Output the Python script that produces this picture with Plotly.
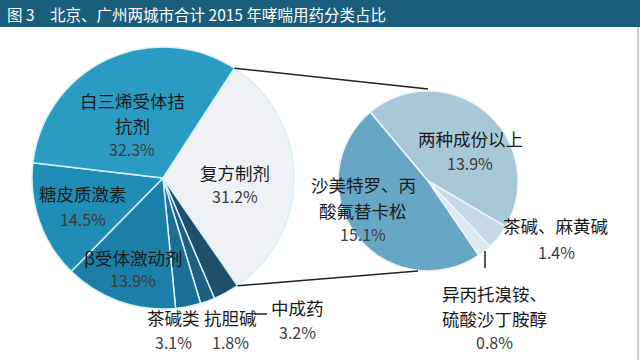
import math
import plotly.graph_objects as go

# ---------------- data ----------------
title_text = "图 3　北京、广州两城市合计 2015 年哮喘用药分类占比"

main_labels = ["复方制剂", "中成药", "抗胆碱", "茶碱类", "β受体激动剂", "糖皮质激素", "白三烯受体拮抗剂"]
main_values = [31.2, 3.2, 1.8, 3.1, 13.9, 14.5, 32.3]

sub_labels = ["两种成份以上", "茶碱、麻黄碱", "异丙托溴铵、硫酸沙丁胺醇", "沙美特罗、丙酸氟替卡松"]
sub_values = [13.9, 1.4, 0.8, 15.1]

# ---------------- styling / layout ----------------
W, H = 640, 360
main_colors = ["#eff1f4", "#1f4f6b", "#1c5f83", "#1b6e95", "#1b7fa8", "#1f8db6", "#2a9cc4"]
sub_colors = ["#a8c7d7", "#c4dae6", "#dde9f0", "#68a6c5"]

main_c, main_r = (163, 178), 131
sub_c, sub_r = (428, 181), 90
main_rot, sub_rot = 33, 320

# display lines, x, y of each line, y of the percentage (pixels)
main_text = {
    "白三烯受体拮抗剂": (["白三烯受体拮", "抗剂"], 132, [100, 125], 149),
    "复方制剂": (["复方制剂"], 235, [172], 196),
    "糖皮质激素": (["糖皮质激素"], 83, [193], 219),
    "β受体激动剂": (["β受体激动剂"], 133, [257], 280),
    "茶碱类": (["茶碱类"], 173, [317], 342),
    "抗胆碱": (["抗胆碱"], 230, [317], 342),
    "中成药": (["中成药"], 297, [307], 332),
}
sub_text = {
    "两种成份以上": (["两种成份以上"], 470, [138], 163),
    "沙美特罗、丙酸氟替卡松": (["沙美特罗、丙", "酸氟替卡松"], 363, [185, 210], 234),
    "茶碱、麻黄碱": (["茶碱、麻黄碱"], 556, [225], 252),
    "异丙托溴铵、硫酸沙丁胺醇": (["异丙托溴铵、", "硫酸沙丁胺醇"], 494, [293, 318], 342),
}

FONT = "Noto Sans CJK SC, Noto Sans, sans-serif"


def px(x):
    return x / W


def py(y):
    return 1 - y / H


def dom(c, r):
    return dict(x=[px(c[0] - r), px(c[0] + r)], y=[py(c[1] + r), py(c[1] - r)])


def pt(c, r, ang):
    a = math.radians(ang)
    return (c[0] + r * math.sin(a), c[1] - r * math.cos(a))


fig = go.Figure()
fig.add_trace(go.Pie(
    labels=main_labels, values=main_values, sort=False, direction="clockwise",
    rotation=main_rot, domain=dom(main_c, main_r), textinfo="none", hoverinfo="label+value",
    marker=dict(colors=main_colors, line=dict(color="#d6f1fa", width=1.5)),
    showlegend=False,
))
fig.add_trace(go.Pie(
    labels=sub_labels, values=sub_values, sort=False, direction="clockwise",
    rotation=sub_rot, domain=dom(sub_c, sub_r), textinfo="none", hoverinfo="label+value",
    marker=dict(colors=sub_colors, line=dict(color="#eef5f9", width=1.5)),
    showlegend=False,
))

shapes = []
# title bar
shapes.append(dict(type="rect", xref="paper", yref="paper", x0=0, x1=1, y0=py(27), y1=1,
                   fillcolor="#1b5d7c", line=dict(width=0), layer="below"))
# right border
shapes.append(dict(type="line", xref="paper", yref="paper", x0=px(638), x1=px(638), y0=0, y1=py(27),
                   line=dict(color="#9a9a9a", width=1)))

# connector lines from the exploded slice (first main slice) to the secondary pie
frac = main_values[0] / sum(main_values)
a_start = main_rot
a_end = main_rot + frac * 360
p1 = pt(main_c, main_r, a_start)
p2 = pt(main_c, main_r, a_end)
q1 = (sub_c[0], sub_c[1] - sub_r - 2)
q2 = (sub_c[0] - 10, sub_c[1] + sub_r)
for a, b in [(p1, q1), (p2, q2)]:
    shapes.append(dict(type="line", xref="paper", yref="paper", x0=px(a[0]), y0=py(a[1]),
                       x1=px(b[0]), y1=py(b[1]), line=dict(color="#222222", width=1.5)))
# leader lines
shapes.append(dict(type="line", xref="paper", yref="paper", x0=px(255), x1=px(267), y0=py(314), y1=py(314),
                   line=dict(color="#222222", width=1.5)))
shapes.append(dict(type="line", xref="paper", yref="paper", x0=px(485), x1=px(485), y0=py(251), y1=py(268),
                   line=dict(color="#222222", width=1.5)))

annotations = [dict(text=title_text, xref="paper", yref="paper", x=px(5), y=py(14),
                    xanchor="left", yanchor="middle", showarrow=False,
                    font=dict(family=FONT, size=15.5, color="white"))]


def add_labels(labels, values, table):
    for lab, val in zip(labels, values):
        lines, x, ys, yp = table[lab]
        for line, y in zip(lines, ys):
            annotations.append(dict(text=line, xref="paper", yref="paper", x=px(x), y=py(y),
                                    xanchor="center", yanchor="middle", showarrow=False,
                                    font=dict(family=FONT, size=17.5, color="#1a1a1a")))
        annotations.append(dict(text=f"{val:.1f}%", xref="paper", yref="paper", x=px(x), y=py(yp),
                                xanchor="center", yanchor="middle", showarrow=False,
                                font=dict(family=FONT, size=16, color="#3c3c3c")))


add_labels(main_labels, main_values, main_text)
add_labels(sub_labels, sub_values, sub_text)

fig.update_layout(
    width=W, height=H, margin=dict(l=0, r=0, t=0, b=0),
    paper_bgcolor="white", plot_bgcolor="white",
    shapes=shapes, annotations=annotations,
)
fig.write_html("out.html", config={"displayModeBar": False},
               post_script="document.body.style.margin='0';document.body.style.overflow='hidden';")
